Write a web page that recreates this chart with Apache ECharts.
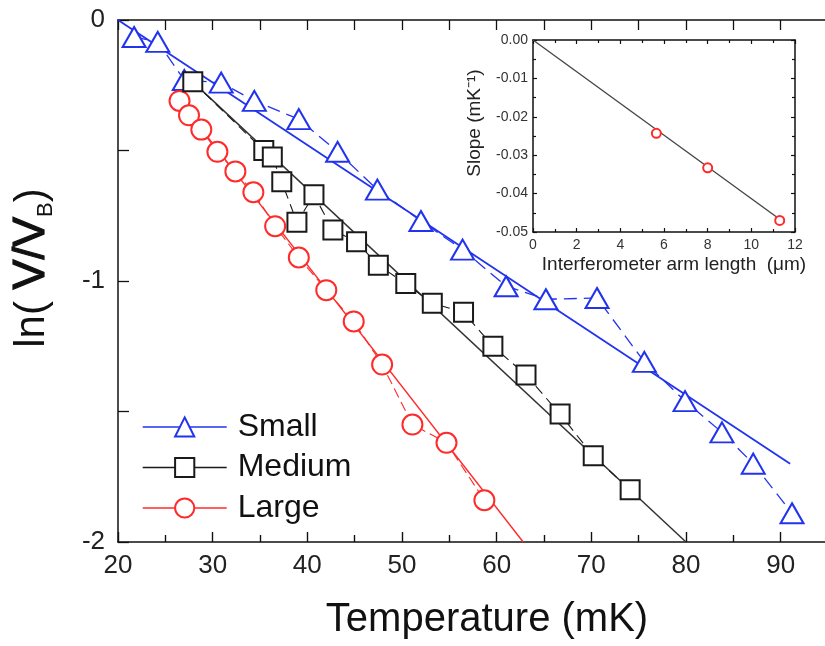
<!DOCTYPE html>
<html>
<head>
<meta charset="utf-8">
<script src="https://cdn.jsdelivr.net/npm/echarts@6/dist/echarts.min.js"></script>
<style>html,body{margin:0;padding:0;background:#fff}#c{width:825px;height:646px}</style>
</head>
<body>
<div id="c"></div>
<script>
// ---- Main panel data: ln(V/VB) vs Temperature (mK) ----
const smallT  = [21.7, 24.2, 27.0, 30.9, 34.4, 39.1, 43.2, 47.4, 52.0, 56.4, 61.0, 65.2, 70.6, 75.6, 79.9, 83.8, 87.1, 91.2];
const smallLn = [-0.065, -0.084, -0.23, -0.24, -0.31, -0.38, -0.505, -0.65, -0.77, -0.88, -1.02, -1.07, -1.065, -1.31, -1.46, -1.58, -1.70, -1.89];
const mediumT  = [27.9, 35.4, 36.3, 37.3, 38.9, 40.7, 42.7, 45.2, 47.5, 50.4, 53.2, 56.5, 59.6, 63.1, 66.7, 70.2, 74.1];
const mediumLn = [-0.237, -0.50, -0.525, -0.62, -0.775, -0.67, -0.805, -0.85, -0.94, -1.01, -1.085, -1.12, -1.25, -1.36, -1.51, -1.67, -1.80];
const largeT  = [26.5, 27.5, 28.8, 30.5, 32.4, 34.3, 36.6, 39.1, 42.0, 44.9, 47.9, 51.1, 54.7, 58.7];
const largeLn = [-0.31, -0.365, -0.42, -0.505, -0.58, -0.66, -0.79, -0.91, -1.035, -1.155, -1.32, -1.55, -1.62, -1.84];
// linear fit end points (T, ln)
const smallFit  = [[20, 0], [91.0, -1.70]];
const mediumFit = [[27.9, -0.237], [80.0, -2.0]];
const largeFit  = [[26.5, -0.31], [62.8, -2.0]];
const seriesNames = ['Small', 'Medium', 'Large'];
const xTicks = [20, 30, 40, 50, 60, 70, 80, 90];
const yTicks = [0, -1, -2];

// ---- Inset data: slope vs interferometer arm length ----
const armLength = [5.65, 8.0, 11.3];
const slopeVals = [-0.0243, -0.0333, -0.0470];
const slopeFit  = [[0, 0], [11.3, -0.0467]];

const FONT = 'Liberation Sans, Arial, Helvetica, sans-serif';
const BLUE = '#2233ee', BLACK = '#1a1a1a', RED = '#ff2a2a';
const zip = (a, b) => a.map((v, i) => [v, b[i]]);

const chart = echarts.init(document.getElementById('c'), null, {renderer: 'canvas'});

const axLine = (w) => ({show: true, onZero: false, lineStyle: {color: '#111', width: w}});
const tick = (len, w, c) => ({show: true, inside: true, length: len, lineStyle: {color: c || '#111', width: w}});
const minor = (len, w, c) => ({show: true, splitNumber: 2, length: len, lineStyle: {color: c || '#111', width: w}});
const option = {
  animation: false,
  backgroundColor: '#fff',
  grid: [
    {left: 118, top: 20, right: -3, bottom: 104, containLabel: false, outerBoundsMode: 'none'},
    {left: 533, top: 40, right: 30, bottom: 414, containLabel: false, outerBoundsMode: 'none',
     show: true, backgroundColor: '#fff', borderWidth: 0}
  ],
  xAxis: [
    {gridIndex: 0, type: 'value', min: 20, max: 95, interval: 10, position: 'bottom',
     axisLine: axLine(1.5), axisTick: tick(10, 1.4), minorTick: minor(7, 1.4),
     splitLine: {show: false},
     axisLabel: {show: true, margin: 11, fontSize: 26, fontFamily: FONT, color: '#222',
       formatter: v => xTicks.includes(v) ? String(v) : ''}},
    {gridIndex: 0, type: 'value', min: 20, max: 95, interval: 10, position: 'top',
     axisLine: axLine(1.5), axisTick: tick(10, 1.3), minorTick: minor(10, 1.3),
     splitLine: {show: false}, axisLabel: {show: false}},
    {gridIndex: 1, type: 'value', min: 0, max: 12, interval: 2, position: 'bottom',
     axisLine: axLine(1.5), axisTick: tick(4, 1.2), minorTick: minor(3, 1.2),
     splitLine: {show: false},
     axisLabel: {show: true, margin: 6, fontSize: 14, fontFamily: FONT, color: '#333'}},
    {gridIndex: 1, type: 'value', min: 0, max: 12, interval: 2, position: 'top',
     axisLine: axLine(1.5), axisTick: tick(4, 1.2), minorTick: minor(3, 1.2),
     splitLine: {show: false}, axisLabel: {show: false}}
  ],
  yAxis: [
    {gridIndex: 0, type: 'value', min: -2, max: 0, interval: 1, position: 'left',
     axisLine: axLine(1.5), axisTick: tick(11, 1.3), minorTick: minor(11, 1.3),
     splitLine: {show: false},
     axisLabel: {show: true, margin: 13, fontSize: 26, fontFamily: FONT, color: '#222',
       formatter: v => yTicks.includes(v) ? String(v) : ''}},
    {gridIndex: 1, type: 'value', min: -0.05, max: 0, interval: 0.01, position: 'left',
     axisLine: axLine(1.5), axisTick: tick(4, 1.2), minorTick: minor(3, 1.2),
     splitLine: {show: false},
     axisLabel: {show: true, margin: 5, fontSize: 14, fontFamily: FONT, color: '#333',
       formatter: v => v.toFixed(2)}},
    {gridIndex: 1, type: 'value', min: -0.05, max: 0, interval: 0.01, position: 'right',
     axisLine: axLine(1.5), axisTick: tick(4, 1.2), minorTick: minor(3, 1.2),
     splitLine: {show: false}, axisLabel: {show: false}}
  ],
  legend: {
    data: seriesNames, orient: 'vertical', left: 142, top: 411, padding: 0,
    itemWidth: 84, itemHeight: 24, itemGap: 8.5,
    lineStyle: {type: 'solid', width: 1.4},
    textStyle: {fontSize: 32, fontFamily: FONT, color: '#111', padding: [0, 0, 0, 6]},
    selectedMode: false
  },
  series: [
    {name: 'Small fit', type: 'line', xAxisIndex: 0, yAxisIndex: 0, data: smallFit,
     symbol: 'none', lineStyle: {color: BLUE, width: 1.8}, z: 2, silent: true},
    {name: 'Medium fit', type: 'line', xAxisIndex: 0, yAxisIndex: 0, data: mediumFit,
     symbol: 'none', lineStyle: {color: '#333', width: 1.5}, z: 2, silent: true},
    {name: 'Large fit', type: 'line', xAxisIndex: 0, yAxisIndex: 0, data: largeFit,
     symbol: 'none', lineStyle: {color: RED, width: 1.4}, z: 2, silent: true},
    {name: 'Small', type: 'line', xAxisIndex: 0, yAxisIndex: 0, data: zip(smallT, smallLn),
     symbol: 'emptyTriangle', symbolSize: [23, 20], color: BLUE,
     itemStyle: {color: BLUE, borderWidth: 1.6},
     lineStyle: {color: BLUE, width: 1.3, type: [13, 7]}, z: 3},
    {name: 'Medium', type: 'line', xAxisIndex: 0, yAxisIndex: 0, data: zip(mediumT, mediumLn),
     symbol: 'emptyRect', symbolSize: 19, color: BLACK,
     itemStyle: {color: BLACK, borderWidth: 1.5},
     lineStyle: {color: BLACK, width: 1.1, type: [10, 6]}, z: 4},
    {name: 'Large', type: 'line', xAxisIndex: 0, yAxisIndex: 0, data: zip(largeT, largeLn),
     symbol: 'emptyCircle', symbolSize: 20, color: RED,
     itemStyle: {color: RED, borderWidth: 1.2},
     lineStyle: {color: RED, width: 1.1, type: [10, 5]}, z: 3},
    {name: 'Slope fit', type: 'line', xAxisIndex: 2, yAxisIndex: 1, data: slopeFit,
     symbol: 'none', lineStyle: {color: '#444', width: 1.3}, z: 5, silent: true},
    {name: 'Slope', type: 'line', xAxisIndex: 2, yAxisIndex: 1, data: zip(armLength, slopeVals),
     symbol: 'emptyCircle', symbolSize: 9, color: RED, lineStyle: {width: 0, opacity: 0},
     itemStyle: {color: RED, borderWidth: 2}, z: 6}
  ],
  graphic: [
    {type: 'text', x: 487, y: 620, silent: true,
     style: {text: 'Temperature (mK)', fontSize: 40, fontFamily: FONT, fill: '#111',
       align: 'center', verticalAlign: 'middle'}},
    {type: 'text', x: 32, y: 268, rotation: Math.PI / 2, silent: true,
     style: {text: '{n|ln( }{v|V/V}{s|B}{n|)}', fontFamily: FONT, fill: '#111',
       align: 'center', verticalAlign: 'middle',
       rich: {
         n: {fontSize: 42, fontFamily: FONT, fill: '#111', lineHeight: 50},
         v: {fontSize: 45, fontFamily: FONT, fill: '#111', lineHeight: 50, stroke: '#111', lineWidth: 1.2},
         s: {fontSize: 22, fontFamily: FONT, fill: '#111', verticalAlign: 'bottom', lineHeight: 22, padding: [22, 0, 0, 0]}
       }}},
    {type: 'text', x: 674, y: 265, silent: true,
     style: {text: 'Interferometer arm length  (\u03bcm)', fontSize: 19, fontFamily: FONT, fill: '#222',
       align: 'center', verticalAlign: 'middle'}},
    {type: 'text', x: 475, y: 123, rotation: Math.PI / 2, silent: true,
     style: {text: 'Slope (mK\u207b\u00b9)', fontSize: 19, fontFamily: FONT, fill: '#222',
       align: 'center', verticalAlign: 'middle'}}
  ]
};
chart.setOption(option);
</script>
</body>
</html>
